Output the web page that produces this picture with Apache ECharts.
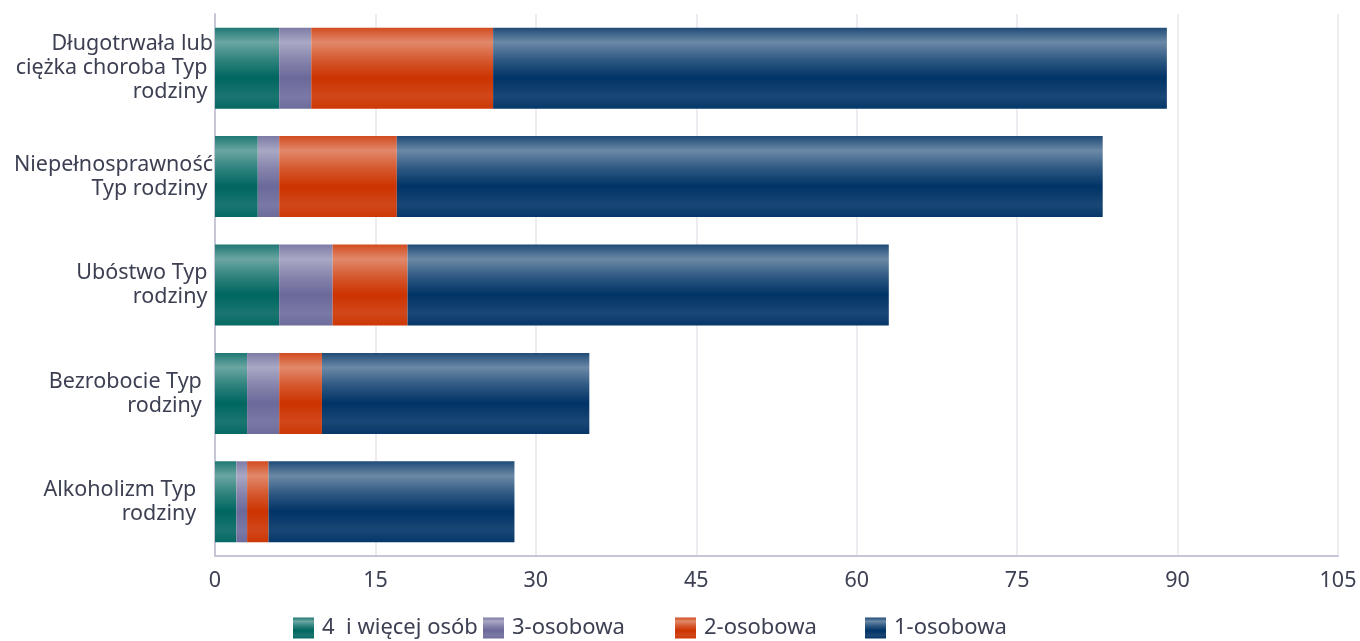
<!DOCTYPE html>
<html>
<head>
<meta charset="utf-8">
<script src="https://cdn.jsdelivr.net/npm/echarts@6/dist/echarts.min.js"></script>
<style>
html,body{margin:0;padding:0;background:#fff;}
#chart{width:1360px;height:641px;}
</style>
</head>
<body>
<div id="chart"></div>
<script>
const categories = [
  'Długotrwała lub\nciężka choroba Typ \nrodziny ',
  'Niepełnosprawność\nTyp rodziny ',
  'Ubóstwo Typ \nrodziny ',
  'Bezrobocie Typ  \nrodziny  ',
  'Alkoholizm Typ   \nrodziny   '
];
const seriesNames = ['4  i więcej osób', '3-osobowa', '2-osobowa', '1-osobowa'];
const fourPlus = [6, 4, 6, 3, 2];
const threePerson = [3, 2, 5, 3, 1];
const twoPerson = [17, 11, 7, 4, 2];
const onePerson = [63, 66, 45, 25, 23];
const xTicks = { min: 0, max: 105, interval: 15 };

const baseColors = ['#006660', '#6b699a', '#cc3300', '#003366'];
const legendLefts = [288, 478, 670, 860];

function mix(hex, t) {
  const r = parseInt(hex.slice(1,3),16), g = parseInt(hex.slice(3,5),16), b = parseInt(hex.slice(5,7),16);
  const m = c => Math.round(c + (255 - c) * t);
  return 'rgb(' + m(r) + ',' + m(g) + ',' + m(b) + ')';
}
function grad(hex) {
  return new echarts.graphic.LinearGradient(0, 0, 0, 1, [
    { offset: 0, color: mix(hex, 0.12) },
    { offset: 0.18, color: mix(hex, 0.42) },
    { offset: 0.4, color: mix(hex, 0.18) },
    { offset: 0.62, color: mix(hex, 0.0) },
    { offset: 0.85, color: mix(hex, 0.1) },
    { offset: 1, color: mix(hex, 0.02) }
  ]);
}

const dataSets = [fourPlus, threePerson, twoPerson, onePerson];
const textColor = '#3d4052';
const font = 'Noto Sans';

const chart = echarts.init(document.getElementById('chart'));
chart.setOption({
  animation: false,
  textStyle: { fontFamily: font },
  grid: { left: 215, right: 22, top: 14, bottom: 85, containLabel: false },
  legend: seriesNames.map((n, i) => ({
    left: legendLefts[i],
    top: 612,
    itemWidth: 21,
    itemHeight: 21,
    itemGap: 0,
    icon: 'rect',
    textStyle: { fontFamily: font, fontSize: 22, color: textColor, padding: [0, 0, 0, 3] },
    data: [n]
  })),
  xAxis: {
    type: 'value',
    min: xTicks.min,
    max: xTicks.max,
    interval: xTicks.interval,
    axisLine: { show: true, lineStyle: { color: '#c6c6d6', width: 2 } },
    axisTick: { show: false },
    axisLabel: { fontFamily: font, fontSize: 21.5, color: textColor, margin: 14 },
    splitLine: { show: true, lineStyle: { color: '#e8e6ec', width: 1.5 } }
  },
  yAxis: {
    type: 'category',
    inverse: true,
    data: categories,
    axisLine: { show: true, lineStyle: { color: '#c6c6d6', width: 2 } },
    axisTick: { show: false },
    axisLabel: {
      fontFamily: font, fontSize: 21.5, color: textColor, margin: 2,
      lineHeight: 24, align: 'right', padding: [4, 0, 0, 0]
    },
    splitLine: { show: false }
  },
  series: dataSets.map((d, i) => ({
    name: seriesNames[i],
    type: 'bar',
    stack: 'total',
    barWidth: 81,
    data: d,
    itemStyle: { color: grad(baseColors[i]) },
    emphasis: { disabled: true }
  }))
});
</script>
</body>
</html>
